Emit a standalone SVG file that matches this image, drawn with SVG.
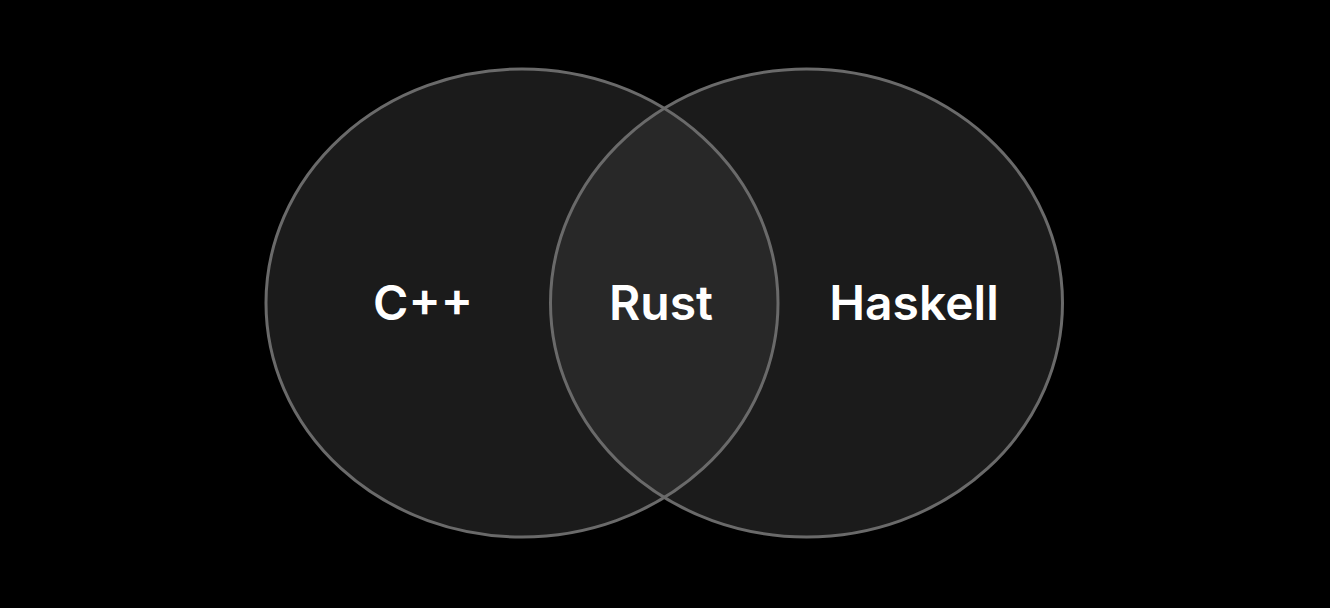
<svg xmlns="http://www.w3.org/2000/svg" width="1330" height="608" viewBox="0 0 1330 608">
<style>
.fill{fill:#1b1b1b;}
.ring{fill:none;stroke:#6a6a6a;stroke-width:3;}
.lbl{font-family:Inter,"Liberation Sans",sans-serif;font-weight:600;font-size:48px;fill:#ffffff;text-anchor:middle;}
</style>
<defs>
<clipPath id="clipLeft"><ellipse cx="522" cy="303" rx="256" ry="234"/></clipPath>
</defs>
<rect width="1330" height="608" fill="#000000"/>
<g id="cpp">
<ellipse class="fill" cx="522" cy="303" rx="256" ry="234"/>
</g>
<g id="haskell">
<ellipse class="fill" cx="806.5" cy="303" rx="256" ry="234"/>
</g>
<g id="rust">
<ellipse cx="806.5" cy="303" rx="256" ry="234" fill="#282828" clip-path="url(#clipLeft)"/>
</g>
<g id="outlines">
<ellipse class="ring" cx="522" cy="303" rx="256" ry="234"/>
<ellipse class="ring" cx="806.5" cy="303" rx="256" ry="234"/>
</g>
<g id="labels">
<text class="lbl" x="423" y="320">C++</text>
<text class="lbl" x="661" y="320">Rust</text>
<text class="lbl" x="914" y="320">Haskell</text>
</g>
</svg>
